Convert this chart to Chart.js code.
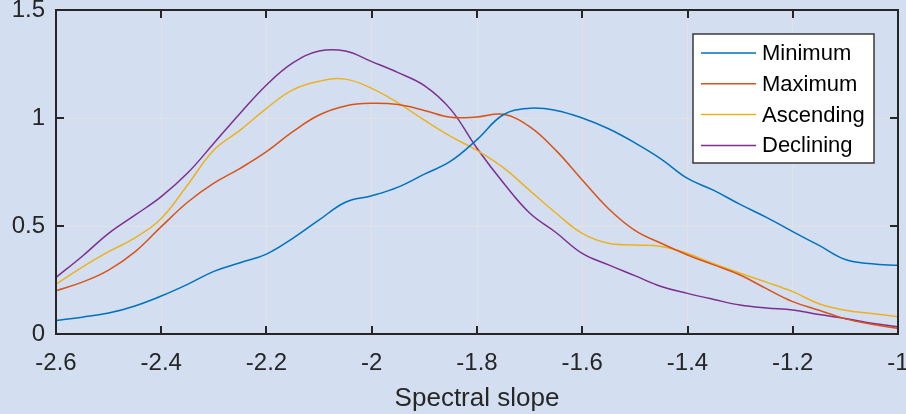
<!DOCTYPE html>
<html>
<head>
<meta charset="utf-8">
<script src="https://cdn.jsdelivr.net/npm/chart.js@4"></script>
<style>
  html, body { margin: 0; padding: 0; background: #d3dff0; }
  #wrap { width: 906px; height: 414px; position: relative; }
</style>
</head>
<body>
<div id="wrap"><canvas id="grafico"></canvas></div>
<script>
// ─── DATA ────────────────────────────────────────────────────────────────────
const slopes = [-2.6, -2.55, -2.5, -2.45, -2.4, -2.35, -2.3, -2.25, -2.2, -2.15, -2.1, -2.05, -2.0,
  -1.95, -1.9, -1.85, -1.8, -1.75, -1.7, -1.65, -1.6, -1.55, -1.5, -1.45, -1.4, -1.35, -1.3,
  -1.25, -1.2, -1.15, -1.1, -1.05, -1.0];

const minimum = [0.062, 0.078, 0.097, 0.13, 0.176, 0.23, 0.29, 0.33, 0.37, 0.443, 0.528, 0.61, 0.64,
  0.68, 0.74, 0.80, 0.90, 1.015, 1.045, 1.035, 1.0, 0.95, 0.885, 0.81, 0.72, 0.665, 0.60,
  0.54, 0.474, 0.41, 0.345, 0.325, 0.318];

const maximum = [0.200, 0.24, 0.296, 0.38, 0.497, 0.61, 0.698, 0.767, 0.844, 0.937, 1.014, 1.056, 1.068,
  1.062, 1.035, 1.003, 1.005, 1.017, 0.96, 0.85, 0.713, 0.58, 0.48, 0.42, 0.366, 0.32, 0.273,
  0.21, 0.15, 0.11, 0.07, 0.045, 0.026];

const ascending = [0.231, 0.31, 0.381, 0.445, 0.535, 0.69, 0.852, 0.944, 1.045, 1.13, 1.17, 1.18, 1.137,
  1.07, 0.99, 0.915, 0.85, 0.77, 0.665, 0.56, 0.466, 0.42, 0.412, 0.405, 0.373, 0.325, 0.281,
  0.24, 0.196, 0.14, 0.11, 0.095, 0.08];

const declining = [0.262, 0.36, 0.466, 0.55, 0.636, 0.745, 0.883, 1.022, 1.153, 1.255, 1.31, 1.31, 1.261,
  1.21, 1.15, 1.04, 0.86, 0.70, 0.56, 0.47, 0.373, 0.32, 0.27, 0.22, 0.188, 0.16, 0.134,
  0.12, 0.111, 0.09, 0.072, 0.05, 0.034];

const seriesNames  = ["Minimum", "Maximum", "Ascending", "Declining"];
const seriesColors = ["#0072BD", "#D95319", "#EDB120", "#7E2F8E"];
const xLabel = "Spectral slope";

// ─── CHART ───────────────────────────────────────────────────────────────────
const FONT = "'Liberation Sans', Arial, Helvetica, sans-serif";
const INK  = "#262626";
const fmt  = v => String(+(+v).toFixed(2));

const seriesValues = [minimum, maximum, ascending, declining];
const datasets = seriesNames.map((name, i) => ({
  label: name,
  data: slopes.map((x, k) => ({ x, y: seriesValues[i][k] })),
  borderColor: seriesColors[i],
  backgroundColor: seriesColors[i],
  borderWidth: 1.5,
  pointRadius: 0,
  tension: 0.4,
  fill: false
}));

// axes box, inward ticks and legend drawn MATLAB-style
const matlabAxes = {
  id: "matlabAxes",
  afterDraw(chart){
    const { ctx, chartArea: a, scales } = chart;
    const len = 8;
    ctx.save();
    ctx.strokeStyle = INK;
    ctx.lineWidth = 2;
    ctx.beginPath();
    scales.x.ticks.forEach(t => {
      const px = Math.round(scales.x.getPixelForValue(t.value));
      ctx.moveTo(px, a.bottom); ctx.lineTo(px, a.bottom - len);
      ctx.moveTo(px, a.top);    ctx.lineTo(px, a.top + len);
    });
    scales.y.ticks.forEach(t => {
      const py = Math.round(scales.y.getPixelForValue(t.value));
      ctx.moveTo(a.left, py);  ctx.lineTo(a.left + len, py);
      ctx.moveTo(a.right, py); ctx.lineTo(a.right - len, py);
    });
    ctx.stroke();
    ctx.strokeRect(a.left, a.top, a.right - a.left, a.bottom - a.top);

    // legend
    const bx = a.right - 205, by = a.top + 24, bw = 181, bh = 129;
    ctx.fillStyle = "#ffffff";
    ctx.fillRect(bx, by, bw, bh);
    ctx.strokeStyle = "#3a3a3a";
    ctx.lineWidth = 1.5;
    ctx.strokeRect(bx, by, bw, bh);
    ctx.font = `22px ${FONT}`;
    ctx.textBaseline = "middle";
    ctx.textAlign = "left";
    chart.data.datasets.forEach((ds, i) => {
      const y = by + 19 + i * 30.8;
      ctx.strokeStyle = ds.borderColor;
      ctx.lineWidth = 1.5;
      ctx.beginPath();
      ctx.moveTo(bx + 8, y); ctx.lineTo(bx + 63, y);
      ctx.stroke();
      ctx.fillStyle = "#000000";
      ctx.fillText(ds.label, bx + 69, y + 1);
    });
    ctx.restore();
  }
};

const grafico = document.getElementById("grafico");
window.graficoChart = new Chart(grafico.getContext("2d"), {
  type: "line",
  data: { datasets },
  options: {
    responsive: true, maintainAspectRatio: false, animation: false,
    layout: { padding: { top: 10, right: 8, left: 0, bottom: 0 } },
    plugins: { legend: { display: false }, tooltip: { enabled: false } },
    scales: {
      x: {
        type: "linear", min: -2.6, max: -1,
        ticks: { stepSize: 0.2, color: INK, padding: 15, font: { family: FONT, size: 24 }, callback: fmt, maxRotation: 0 },
        grid: { color: "#e2e2e2", lineWidth: 1, drawTicks: false },
        border: { display: false },
        title: { display: true, text: xLabel, color: INK, font: { family: FONT, size: 26 }, padding: { top: 4, bottom: 0 } },
        afterFit: s => { s.height = 80; s.paddingLeft = 0; s.paddingRight = 0; }
      },
      y: {
        min: 0, max: 1.5,
        ticks: { stepSize: 0.5, color: INK, padding: 11, font: { family: FONT, size: 24 }, callback: fmt },
        grid: { color: "#e2e2e2", lineWidth: 1, drawTicks: false },
        border: { display: false },
        afterFit: s => { s.width = 56; s.paddingTop = 0; s.paddingBottom = 0; }
      }
    }
  },
  plugins: [matlabAxes]
});
</script>
</body>
</html>
